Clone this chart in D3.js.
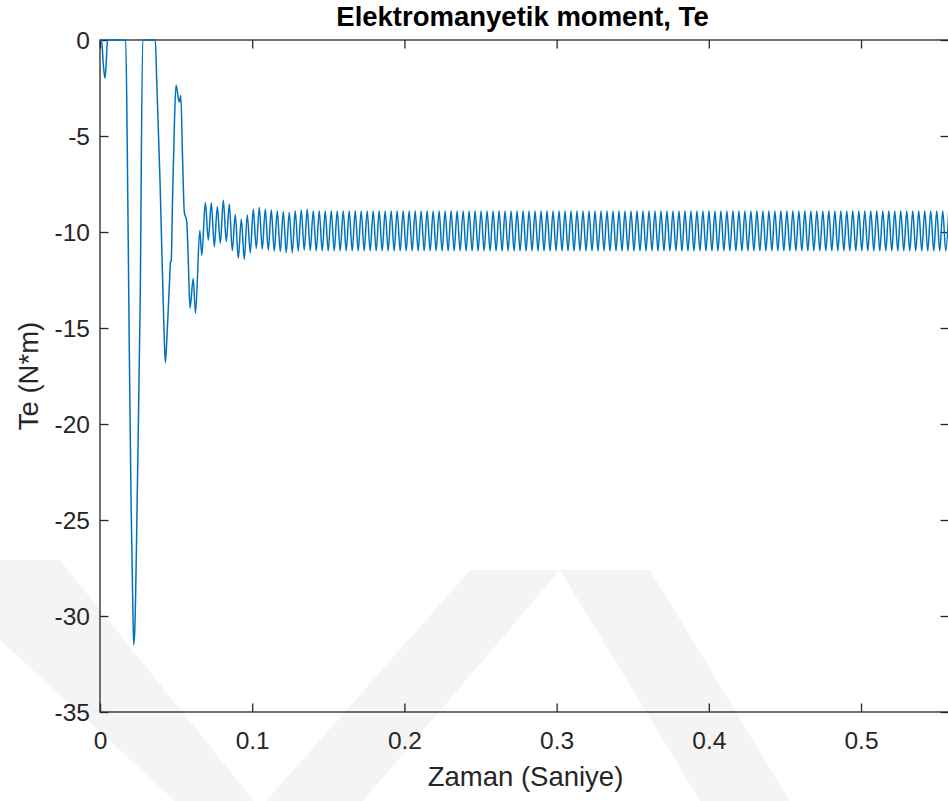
<!DOCTYPE html>
<html>
<head>
<meta charset="utf-8">
<script src="https://cdn.jsdelivr.net/npm/d3@7"></script>
<style>
  html, body { margin: 0; padding: 0; background: #ffffff; }
  svg { display: block; }
  text { font-family: "Liberation Sans", Arial, Helvetica, sans-serif; }
</style>
</head>
<body>
<svg id="chart" width="948" height="801"></svg>
<script>
// Electromagnetic torque Te (N*m) versus time, start-up transient then steady ripple.
const chartTitle = "Elektromanyetik moment, Te";
const xLabel = "Zaman (Saniye)";
const yLabel = "Te (N*m)";

const xTicks = [0, 0.1, 0.2, 0.3, 0.4, 0.5];
const yTicks = [-35, -30, -25, -20, -15, -10, -5, 0];
const xLimits = [0, 0.5578];
const yLimits = [-35, 0];

// Start-up transient: time (ms) and torque (N*m)
const startMs = [0, 1.0, 2.2, 3.3, 4.2, 4.9, 16.9, 17.9, 19.25, 20.4,
  21.5, 22.15, 22.86, 24.64, 26.41, 28.06, 36.33, 37.25, 39.42, 42.05,
  42.9, 44.22, 45.66, 46.32, 46.78, 47.64, 48.95, 49.93, 52.04, 53.09,
  54.27, 55.39, 56.96, 58.0, 59.13, 61.24, 62.75, 65.57, 66.89];
const startTe = [0, 0, -1.3, -2.0, -1.0, 0, 0, -5.5, -16.1, -24.0,
  -29.2, -31.5, -30.7, -22.9, -13.5, 0, 0, -2.1, -7.3, -15.1,
  -16.8, -15.1, -12.6, -11.56, -11.51, -8.33, -4.17, -2.34, -3.23, -2.89,
  -6.25, -8.96, -9.43, -11.46, -13.97, -12.42, -14.23, -9.92, -11.22];

// Ripple: successive crests and troughs, time (ms) — 10 per row
const rippleMs = [
  69.19, 71.16, 73.13, 75.10, 77.07, 79.04, 81.01, 82.98, 84.95, 86.92,
  88.89, 90.86, 92.82, 94.79, 96.76, 98.73, 100.70, 102.67, 104.64, 106.61,
  108.58, 110.55, 112.52, 114.49, 116.46, 118.43, 120.40, 122.37, 124.34, 126.31,
  128.28, 130.25, 132.21, 134.18, 136.15, 138.12, 140.09, 142.06, 144.03, 146.00,
  147.97, 149.94, 151.91, 153.88, 155.85, 157.82, 159.79, 161.76, 163.73, 165.70,
  167.67, 169.64, 171.60, 173.57, 175.54, 177.51, 179.48, 181.45, 183.42, 185.39,
  187.36, 189.33, 191.30, 193.27, 195.24, 197.21, 199.18, 201.15, 203.12, 205.09,
  207.06, 209.03, 210.99, 212.96, 214.93, 216.90, 218.87, 220.84, 222.81, 224.78,
  226.75, 228.72, 230.69, 232.66, 234.63, 236.60, 238.57, 240.54, 242.51, 244.48,
  246.45, 248.42, 250.38, 252.35, 254.32, 256.29, 258.26, 260.23, 262.20, 264.17,
  266.14, 268.11, 270.08, 272.05, 274.02, 275.99, 277.96, 279.93, 281.90, 283.87,
  285.84, 287.81, 289.77, 291.74, 293.71, 295.68, 297.65, 299.62, 301.59, 303.56,
  305.53, 307.50, 309.47, 311.44, 313.41, 315.38, 317.35, 319.32, 321.29, 323.26,
  325.23, 327.20, 329.16, 331.13, 333.10, 335.07, 337.04, 339.01, 340.98, 342.95,
  344.92, 346.89, 348.86, 350.83, 352.80, 354.77, 356.74, 358.71, 360.68, 362.65,
  364.62, 366.59, 368.55, 370.52, 372.49, 374.46, 376.43, 378.40, 380.37, 382.34,
  384.31, 386.28, 388.25, 390.22, 392.19, 394.16, 396.13, 398.10, 400.07, 402.04,
  404.01, 405.98, 407.94, 409.91, 411.88, 413.85, 415.82, 417.79, 419.76, 421.73,
  423.70, 425.67, 427.64, 429.61, 431.58, 433.55, 435.52, 437.49, 439.46, 441.43,
  443.40, 445.37, 447.33, 449.30, 451.27, 453.24, 455.21, 457.18, 459.15, 461.12,
  463.09, 465.06, 467.03, 469.00, 470.97, 472.94, 474.91, 476.88, 478.85, 480.82,
  482.79, 484.76, 486.72, 488.69, 490.66, 492.63, 494.60, 496.57, 498.54, 500.51,
  502.48, 504.45, 506.42, 508.39, 510.36, 512.33, 514.30, 516.27, 518.24, 520.21,
  522.18, 524.15, 526.11, 528.08, 530.05, 532.02, 533.99, 535.96, 537.93, 539.90,
  541.87, 543.84, 545.81, 547.78, 549.75, 551.72, 553.69, 555.66, 557.63];
// Ripple: torque at those crests and troughs (N*m) — same rows as rippleMs
const rippleTe = [
  -8.47, -10.42, -8.49, -10.76, -8.68, -10.59, -8.35, -10.50, -8.56, -10.97,
  -9.09, -11.37, -9.34, -11.42, -9.11, -11.08, -8.82, -10.85, -8.72, -10.89,
  -8.82, -10.94, -8.85, -10.99, -8.91, -11.02, -8.94, -11.08, -8.98, -11.08,
  -8.91, -10.99, -8.85, -10.94, -8.82, -10.97, -8.91, -10.99, -8.91, -10.99,
  -8.91, -10.99, -8.91, -10.99, -8.91, -10.99, -8.91, -10.99, -8.91, -10.99,
  -8.91, -10.99, -8.91, -10.99, -8.91, -10.99, -8.91, -10.99, -8.91, -10.99,
  -8.91, -10.99, -8.91, -10.99, -8.91, -10.99, -8.91, -10.99, -8.91, -10.99,
  -8.91, -10.99, -8.91, -10.99, -8.91, -10.99, -8.91, -10.99, -8.91, -10.99,
  -8.91, -10.99, -8.91, -10.99, -8.91, -10.99, -8.91, -10.99, -8.91, -10.99,
  -8.91, -10.99, -8.91, -10.99, -8.91, -10.99, -8.91, -10.99, -8.91, -10.99,
  -8.91, -10.99, -8.91, -10.99, -8.91, -10.99, -8.91, -10.99, -8.91, -10.99,
  -8.91, -10.99, -8.91, -10.99, -8.91, -10.99, -8.91, -10.99, -8.91, -10.99,
  -8.91, -10.99, -8.91, -10.99, -8.91, -10.99, -8.91, -10.99, -8.91, -10.99,
  -8.91, -10.99, -8.91, -10.99, -8.91, -10.99, -8.91, -10.99, -8.91, -10.99,
  -8.91, -10.99, -8.91, -10.99, -8.91, -10.99, -8.91, -10.99, -8.91, -10.99,
  -8.91, -10.99, -8.91, -10.99, -8.91, -10.99, -8.91, -10.99, -8.91, -10.99,
  -8.91, -10.99, -8.91, -10.99, -8.91, -10.99, -8.91, -10.99, -8.91, -10.99,
  -8.91, -10.99, -8.91, -10.99, -8.91, -10.99, -8.91, -10.99, -8.91, -10.99,
  -8.91, -10.99, -8.91, -10.99, -8.91, -10.99, -8.91, -10.99, -8.91, -10.99,
  -8.91, -10.99, -8.91, -10.99, -8.91, -10.99, -8.91, -10.99, -8.91, -10.99,
  -8.91, -10.99, -8.91, -10.99, -8.91, -10.99, -8.91, -10.99, -8.91, -10.99,
  -8.91, -10.99, -8.91, -10.99, -8.91, -10.99, -8.91, -10.99, -8.91, -10.99,
  -8.91, -10.99, -8.91, -10.99, -8.91, -10.99, -8.91, -10.99, -8.91, -10.99,
  -8.91, -10.99, -8.91, -10.99, -8.91, -10.99, -8.91, -10.99, -8.91, -10.99,
  -8.91, -10.99, -8.91, -10.99, -8.91, -10.99, -8.91, -10.99, -8.91];

const width = 948, height = 801;
const plot = { left: 100, top: 40, right: 949, bottom: 712 };
const axisColor = "#262626";
const lineColor = "#0072BD";
const tickLen = 8.5;

const svg = d3.select("#chart");

// faint background watermark bands
const wm = svg.append("g").attr("fill", "#000").attr("fill-opacity", 0.045);
const bands = [
  [[0, 560], [60, 560], [254, 801], [175, 801], [0, 640]],
  [[266, 801], [363, 801], [560, 570], [470, 570]],
  [[560, 570], [650, 570], [790, 801], [700, 801]]
];
bands.forEach(b => wm.append("polygon").attr("points", b.map(p => p.join(",")).join(" ")));

const x = d3.scaleLinear().domain(xLimits).range([plot.left, plot.right]);
const y = d3.scaleLinear().domain(yLimits).range([plot.bottom, plot.top]);

const points = d3.zip(startMs.concat(rippleMs), startTe.concat(rippleTe))
  .map(([ms, v]) => ({ t: ms / 1000, v: v }));

// axes box
const axes = svg.append("g");
axes.append("rect")
  .attr("x", plot.left).attr("y", plot.top)
  .attr("width", plot.right - plot.left).attr("height", plot.bottom - plot.top)
  .attr("fill", "none").attr("stroke", axisColor).attr("stroke-width", 1.3);

// inward ticks on all four sides
const xAxisB = d3.axisBottom(x).tickValues(xTicks).tickSize(-tickLen).tickFormat(d => String(d)).tickPadding(18);
const xAxisT = d3.axisTop(x).tickValues(xTicks).tickSize(-tickLen).tickFormat("");
const yAxisL = d3.axisLeft(y).tickValues(yTicks).tickSize(-tickLen).tickFormat(d => String(d)).tickPadding(18);
const yAxisR = d3.axisRight(y).tickValues(yTicks).tickSize(-tickLen).tickFormat("");

function styleAxis(g) {
  g.select(".domain").remove();
  g.selectAll(".tick line").attr("stroke", axisColor).attr("stroke-width", 1.3);
  g.selectAll(".tick text")
    .attr("fill", axisColor)
    .style("font-size", "24.5px")
    .style("font-family", '"Liberation Sans", Arial, Helvetica, sans-serif');
}

axes.append("g").attr("transform", `translate(0,${plot.bottom})`).call(xAxisB).call(styleAxis)
  .selectAll(".tick text").attr("dy", "0.71em").attr("y", 20);
axes.append("g").attr("transform", `translate(0,${plot.top})`).call(xAxisT).call(styleAxis);
axes.append("g").attr("transform", `translate(${plot.left},0)`).call(yAxisL).call(styleAxis)
  .selectAll(".tick text").attr("x", -10).attr("dy", "0.36em");
axes.append("g").attr("transform", `translate(${plot.right},0)`).call(yAxisR).call(styleAxis);

// torque trace
svg.append("clipPath").attr("id", "plotClip")
  .append("rect")
  .attr("x", plot.left).attr("y", plot.top - 4)
  .attr("width", plot.right - plot.left).attr("height", plot.bottom - plot.top + 4);

const line = d3.line()
  .x(d => x(d.t))
  .y(d => y(d.v))
  .curve(d3.curveMonotoneX);

svg.append("path")
  .datum(points)
  .attr("clip-path", "url(#plotClip)")
  .attr("fill", "none")
  .attr("stroke", lineColor)
  .attr("stroke-width", 1.5)
  .attr("stroke-linejoin", "round")
  .attr("d", line);

// title and axis labels
svg.append("text")
  .attr("x", (plot.left + plot.right) / 2 - 2).attr("y", 26)
  .attr("text-anchor", "middle")
  .style("font-size", "27.5px").style("font-weight", "bold")
  .attr("fill", "#000")
  .text(chartTitle);

svg.append("text")
  .attr("x", (plot.left + plot.right) / 2 + 1).attr("y", 786)
  .attr("text-anchor", "middle")
  .style("font-size", "27.5px")
  .attr("fill", axisColor)
  .text(xLabel);

svg.append("text")
  .attr("transform", `translate(38,${(plot.top + plot.bottom) / 2}) rotate(-90)`)
  .attr("text-anchor", "middle")
  .style("font-size", "27.5px")
  .attr("fill", axisColor)
  .text(yLabel);
</script>
</body>
</html>
